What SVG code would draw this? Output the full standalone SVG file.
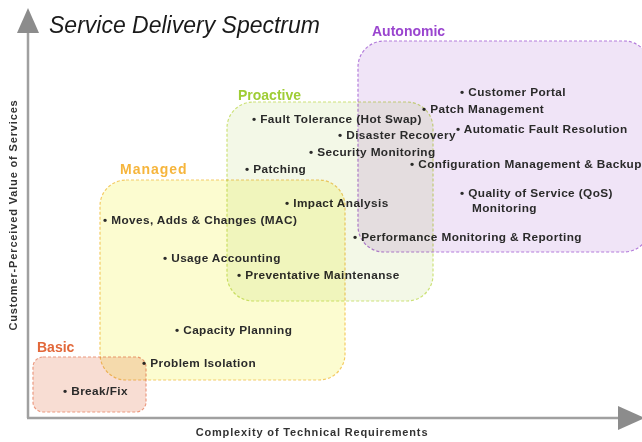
<svg xmlns="http://www.w3.org/2000/svg" width="642" height="442" viewBox="0 0 642 442">
  <style>
    .tier { mix-blend-mode: multiply; stroke-width: 1.2; stroke-dasharray: 3 2; }
    .tier-label { font-family: "Liberation Sans", Arial, sans-serif; font-weight: bold; font-size: 14px; }
    .item { font-family: "Liberation Sans", Arial, sans-serif; font-weight: bold; font-size: 11.8px; letter-spacing: 0.4px; fill: #2a2a2a; }
    .axis-label { font-family: "Liberation Sans", Arial, sans-serif; font-weight: bold; font-size: 11px; letter-spacing: 0.85px; fill: #333; }
    .title { font-family: "Liberation Sans", Arial, sans-serif; font-style: italic; font-size: 23px; fill: #1a1a1a; }
    .axis { stroke: #a0a0a0; stroke-width: 2.5; fill: none; }
    .head { fill: #8c8c8c; }
  </style>

  <rect width="642" height="442" fill="#ffffff"/>

  <text class="title" x="49" y="33">Service Delivery Spectrum</text>

  <!-- axes -->
  <g id="connectors">
    <line class="axis" x1="28" y1="32" x2="28" y2="418"/>
    <line class="axis" x1="27" y1="418" x2="619" y2="418"/>
    <polygon class="head" points="17,33 28,8 39,33"/>
    <polygon class="head" points="618,406 645,418 618,430"/>
  </g>

  <text class="axis-label" x="312" y="436" text-anchor="middle">Complexity of Technical Requirements</text>
  <text class="axis-label" transform="translate(17 215) rotate(-90)" text-anchor="middle">Customer-Perceived Value of Services</text>

  <!-- Autonomic tier -->
  <g id="autonomic">
    <rect class="tier" x="358" y="41" width="292" height="211" rx="26" fill="#f0e4f7" stroke="#b47ddb"/>
    <text class="tier-label" x="372" y="36" fill="#9a45cf">Autonomic</text>
    <text class="item" x="460" y="96">• Customer Portal</text>
    <text class="item" x="422" y="113">• Patch Management</text>
    <text class="item" x="456" y="133">• Automatic Fault Resolution</text>
    <text class="item" x="410" y="168">• Configuration Management &amp; Backup</text>
    <text class="item" x="460" y="197">• Quality of Service (QoS)</text>
    <text class="item" x="472" y="212">Monitoring</text>
    <text class="item" x="353" y="241">• Performance Monitoring &amp; Reporting</text>
  </g>

  <!-- Proactive tier -->
  <g id="proactive">
    <rect class="tier" x="227" y="102" width="206" height="199" rx="26" fill="#f3f8e7" stroke="#cde27a"/>
    <text class="tier-label" x="238" y="100" fill="#9fcd35">Proactive</text>
    <text class="item" x="252" y="123">• Fault Tolerance (Hot Swap)</text>
    <text class="item" x="338" y="139">• Disaster Recovery</text>
    <text class="item" x="309" y="156">• Security Monitoring</text>
    <text class="item" x="245" y="173">• Patching</text>
    <text class="item" x="285" y="207">• Impact Analysis</text>
    <text class="item" x="237" y="279">• Preventative Maintenanse</text>
  </g>

  <!-- Managed tier -->
  <g id="managed">
    <rect class="tier" x="100" y="180" width="245" height="200" rx="26" fill="#fcfcd0" stroke="#f4cc66"/>
    <text class="tier-label" x="120" y="174" fill="#f6b53c" letter-spacing="1">Managed</text>
    <text class="item" x="103" y="224">• Moves, Adds &amp; Changes (MAC)</text>
    <text class="item" x="163" y="262">• Usage Accounting</text>
    <text class="item" x="175" y="334">• Capacity Planning</text>
    <text class="item" x="142" y="367">• Problem Isolation</text>
  </g>

  <!-- Basic tier -->
  <g id="basic">
    <rect class="tier" x="33" y="357" width="113" height="55" rx="10" fill="#f8ddd3" stroke="#ec9a80"/>
    <text class="tier-label" x="37" y="352" fill="#e2683a">Basic</text>
    <text class="item" x="63" y="395">• Break/Fix</text>
  </g>
</svg>
